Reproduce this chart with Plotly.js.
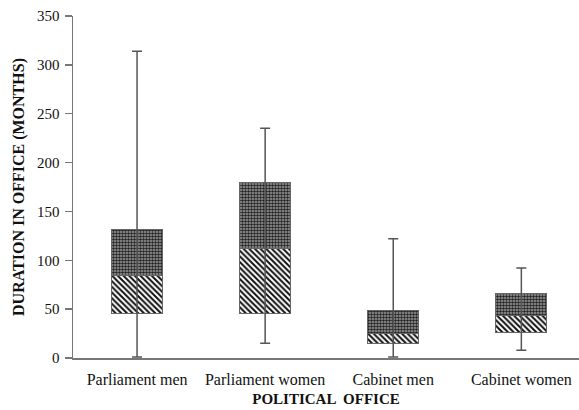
<!DOCTYPE html>
<html><head><meta charset="utf-8">
<script src="https://cdn.plot.ly/plotly-3.0.1.min.js"></script>
<style>html,body{margin:0;padding:0;background:#fff}#c{width:579px;height:410px}</style>
</head><body><div id="c"></div>
<script>
const categories = ["Parliament men", "Parliament women", "Cabinet men", "Cabinet women"];
const minVals = [1, 15, 1, 8];
const q1Vals = [46, 46, 15, 26];
const medianVals = [84, 112, 25, 44];
const q3Vals = [131, 180, 49, 66];
const maxVals = [314, 235, 122, 92];
const yTicks = [0, 50, 100, 150, 200, 250, 300, 350];

const xs = categories.map((c, i) => i);
const lowerBox = medianVals.map((m, i) => m - q1Vals[i]);
const upperBox = q3Vals.map((q, i) => q - medianVals[i]);

const boxLine = {color: "#666", width: 1};
const traces = [
  {type: "bar", x: xs, y: q1Vals, marker: {color: "rgba(0,0,0,0)", line: {width: 0}}, hoverinfo: "skip", width: 0.4},
  {type: "bar", x: xs, y: lowerBox, width: 0.4,
   marker: {color: "white", line: boxLine,
            pattern: {shape: "\\", fgcolor: "#111", bgcolor: "white", size: 4, solidity: 0.5}}},
  {type: "bar", x: xs, y: upperBox, width: 0.4,
   marker: {color: "#666", line: boxLine,
            pattern: {shape: ".", fgcolor: "#222", bgcolor: "#a0a0a0", size: 3, solidity: 0.55}}},
  {type: "scatter", mode: "markers", x: xs, y: medianVals,
   marker: {size: 0.1, color: "rgba(0,0,0,0)"},
   error_y: {type: "data", symmetric: false,
             array: maxVals.map((v, i) => v - medianVals[i]),
             arrayminus: medianVals.map((m, i) => m - minVals[i]),
             color: "#555", thickness: 1.5, width: 5}}
];

const layout = {
  width: 579, height: 410,
  margin: {l: 73, r: 0, t: 16, b: 52},
  barmode: "stack", showlegend: false,
  paper_bgcolor: "white", plot_bgcolor: "white",
  font: {family: "Liberation Serif, Times New Roman, serif", color: "#111"},
  xaxis: {
    range: [-0.5, 3.45], tickvals: xs, ticktext: categories,
    showgrid: false, zeroline: false, showline: true, linecolor: "#777", linewidth: 1.5,
    ticks: "", ticklabelstandoff: 6, tickfont: {size: 16, family: "Liberation Serif", color: "#111"},
    title: {text: "<b>POLITICAL  OFFICE</b>", font: {size: 15, family: "Liberation Serif", color: "#111"}, standoff: 7}
  },
  yaxis: {
    range: [0, 350], tickvals: yTicks, showgrid: false, zeroline: false,
    showline: true, linecolor: "#777", linewidth: 1.5,
    ticks: "outside", ticklen: 7, tickcolor: "#777", tickwidth: 1.5, ticklabelstandoff: 2,
    tickfont: {size: 15, family: "Liberation Serif", color: "#111"},
    title: {text: "<b>DURATION IN OFFICE (MONTHS)</b>", font: {size: 16, family: "Liberation Serif", color: "#111"}, standoff: 8}
  }
};
Plotly.newPlot("c", traces, layout, {displayModeBar: false, staticPlot: true});
</script></body></html>
